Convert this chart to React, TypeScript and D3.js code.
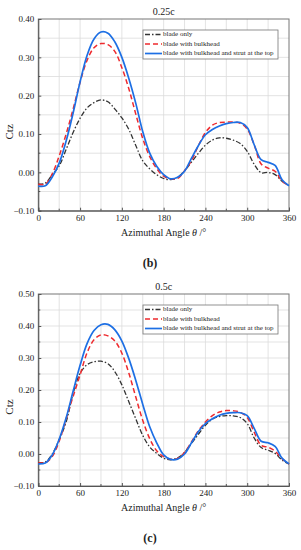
import { useEffect, useRef } from "react";
import * as d3 from "d3";

// azimuthal angle (deg)
const angles = [
    0, 10, 20, 30, 40, 50, 60, 70, 80, 90, 100, 110, 120, 130, 140, 150, 160, 170, 180,
    190, 200, 210, 220, 230, 240, 250, 260, 270, 280, 290, 300, 310, 320, 330, 340, 350, 360,
];

// 0.25c
const bladeOnly25 = [
    -0.031, -0.028, -0.006, 0.017, 0.06, 0.104, 0.141, 0.168, 0.182, 0.189, 0.184, 0.165, 0.142,
    0.112, 0.07, 0.03, 0.009, -0.006, -0.016, -0.019, -0.013, 0.004, 0.027, 0.05, 0.071, 0.084,
    0.09, 0.089, 0.084, 0.075, 0.055, 0.021, -0.001, 0.0, -0.006, -0.023, -0.035,
];
const bulkhead25 = [
    -0.031, -0.031, -0.004, 0.043, 0.1, 0.165, 0.235, 0.292, 0.325, 0.336, 0.333, 0.315, 0.273,
    0.218, 0.152, 0.088, 0.041, 0.01, -0.01, -0.017, -0.016, 0.004, 0.031, 0.07, 0.104, 0.123,
    0.13, 0.131, 0.131, 0.128, 0.113, 0.072, 0.022, 0.011, 0.003, -0.023, -0.035,
];
const strut25 = [
    -0.036, -0.035, -0.012, 0.024, 0.082, 0.155, 0.236, 0.305, 0.348, 0.366, 0.363, 0.34, 0.3,
    0.245, 0.18, 0.106, 0.05, 0.016, -0.006, -0.017, -0.013, 0.003, 0.037, 0.07, 0.098, 0.112,
    0.121, 0.127, 0.13, 0.13, 0.117, 0.072, 0.033, 0.026, 0.018, -0.019, -0.035,
];

// 0.5c
const bladeOnly50 = [
    -0.027, -0.025, 0.0, 0.045, 0.1, 0.19, 0.252, 0.279, 0.288, 0.29, 0.282, 0.257, 0.216, 0.163,
    0.11, 0.058, 0.022, 0.002, -0.013, -0.018, -0.012, 0.005, 0.033, 0.062, 0.09, 0.109, 0.117,
    0.12, 0.119, 0.114, 0.095, 0.05, 0.02, 0.012, 0.002, -0.019, -0.031,
];
const bulkhead50 = [
    -0.027, -0.027, -0.008, 0.04, 0.11, 0.18, 0.247, 0.316, 0.357, 0.372, 0.369, 0.353, 0.315,
    0.253, 0.178, 0.105, 0.048, 0.01, -0.008, -0.016, -0.014, 0.005, 0.038, 0.073, 0.1, 0.12,
    0.131, 0.136, 0.135, 0.13, 0.114, 0.068, 0.027, 0.021, 0.009, -0.015, -0.031,
];
const strut50 = [
    -0.031, -0.028, -0.003, 0.046, 0.113, 0.196, 0.277, 0.345, 0.386, 0.404, 0.405, 0.388, 0.353,
    0.298, 0.23, 0.155, 0.085, 0.035, -0.003, -0.017, -0.016, 0.0, 0.035, 0.07, 0.095, 0.11,
    0.121, 0.127, 0.129, 0.129, 0.12, 0.08, 0.04, 0.035, 0.024, -0.013, -0.031,
];

const legendLabels = ["blade only", "blade with bulkhead", "blade with bulkhead and strut at the top"];
const xTicks = [0, 60, 120, 180, 240, 300, 360];
const yTicks25 = [-0.1, 0.0, 0.1, 0.2, 0.3, 0.4];
const yTicks50 = [-0.1, 0.0, 0.1, 0.2, 0.3, 0.4, 0.5];

const FONT = "'Liberation Serif', 'Times New Roman', serif";

const styles = [
    { color: "#333333", width: 1.3, dash: "5,2,1.5,2" },
    { color: "#ee2a2e", width: 1.5, dash: "5,3" },
    { color: "#1d6fe4", width: 1.7, dash: null as string | null },
];

const App = () => {
    const svgRef = useRef<SVGSVGElement>(null);

    useEffect(() => {
        if (!svgRef.current) return;
        const svg = d3.select(svgRef.current);
        svg.selectAll("*").remove();

        const panels = [
            { title: "0.25c", tag: "(b)", top: 19, bottom: 210.7, yTicks: yTicks25, series: [bladeOnly25, bulkhead25, strut25] },
            { title: "0.5c", tag: "(c)", top: 294, bottom: 486, yTicks: yTicks50, series: [bladeOnly50, bulkhead50, strut50] },
        ];

        const left = 38.3;
        const right = 289;

        panels.forEach((p) => {
            const yMax = p.yTicks[p.yTicks.length - 1];
            const x = d3.scaleLinear().domain([0, 360]).range([left, right]);
            const y = d3.scaleLinear().domain([-0.1, yMax]).range([p.bottom, p.top]);
            const g = svg.append("g");

            // grid
            d3.range(30, 360, 30).forEach((a) => {
                g.append("line")
                    .attr("x1", x(a)).attr("x2", x(a))
                    .attr("y1", p.top).attr("y2", p.bottom)
                    .attr("stroke", "#dcdcdc").attr("stroke-width", 0.8);
            });
            d3.range(-0.05, yMax - 0.001, 0.05).forEach((v) => {
                g.append("line")
                    .attr("x1", left).attr("x2", right)
                    .attr("y1", y(v)).attr("y2", y(v))
                    .attr("stroke", "#dcdcdc").attr("stroke-width", 0.8);
            });

            // frame
            g.append("rect")
                .attr("x", left).attr("y", p.top)
                .attr("width", right - left).attr("height", p.bottom - p.top)
                .attr("fill", "none").attr("stroke", "#777").attr("stroke-width", 1);

            // axes (ticks point inward)
            const xAxis = d3.axisBottom(x).tickValues(xTicks).tickSize(-3).tickPadding(4)
                .tickFormat(d3.format("d") as any);
            const xg = g.append("g").attr("transform", `translate(0,${p.bottom})`).call(xAxis as any);
            const yAxis = d3.axisLeft(y).tickValues(p.yTicks).tickSize(-3).tickPadding(4)
                .tickFormat(d3.format(".2f") as any);
            const yg = g.append("g").attr("transform", `translate(${left},0)`).call(yAxis as any);
            [xg, yg].forEach((ax) => {
                ax.select(".domain").attr("stroke", "#555");
                ax.selectAll(".tick line").attr("stroke", "#555");
                ax.selectAll("text")
                    .attr("font-family", FONT)
                    .attr("font-size", 9)
                    .attr("fill", "#222");
            });
            // minor ticks
            d3.range(30, 360, 60).forEach((a) => {
                g.append("line").attr("x1", x(a)).attr("x2", x(a))
                    .attr("y1", p.bottom).attr("y2", p.bottom - 2).attr("stroke", "#555");
            });
            d3.range(-0.05, yMax, 0.1).forEach((v) => {
                g.append("line").attr("x1", left).attr("x2", left + 2)
                    .attr("y1", y(v)).attr("y2", y(v)).attr("stroke", "#555");
            });

            // curves
            const line = d3.line<number>()
                .x((_, i) => x(angles[i]))
                .y((d) => y(d))
                .curve(d3.curveCatmullRom.alpha(0.5));
            p.series.forEach((s, i) => {
                const st = styles[i];
                g.append("path")
                    .attr("d", line(s))
                    .attr("fill", "none")
                    .attr("stroke", st.color)
                    .attr("stroke-width", st.width)
                    .attr("stroke-dasharray", st.dash)
                    .attr("stroke-linejoin", "round");
            });

            // legend
            const lx = 143, ly = p.top + 11;
            g.append("rect")
                .attr("x", lx).attr("y", ly)
                .attr("width", 135).attr("height", 29)
                .attr("fill", "#fff").attr("stroke", "#777").attr("stroke-width", 0.8);
            legendLabels.forEach((lab, i) => {
                const yy = ly + 4.5 + i * 9.5;
                const st = styles[i];
                g.append("line")
                    .attr("x1", lx + 2).attr("x2", lx + 19)
                    .attr("y1", yy).attr("y2", yy)
                    .attr("stroke", st.color).attr("stroke-width", st.width)
                    .attr("stroke-dasharray", st.dash);
                g.append("text")
                    .attr("x", lx + 20).attr("y", yy)
                    .attr("dominant-baseline", "middle")
                    .attr("font-family", FONT).attr("font-size", 7)
                    .attr("fill", "#222")
                    .text(lab);
            });

            const cx = (left + right) / 2;
            // title
            g.append("text")
                .attr("x", cx).attr("y", p.top - 4)
                .attr("text-anchor", "middle")
                .attr("font-family", FONT).attr("font-size", 10)
                .attr("fill", "#222")
                .text(p.title);

            // axis titles
            const xt = g.append("text")
                .attr("x", cx).attr("y", p.bottom + 25)
                .attr("text-anchor", "middle")
                .attr("font-family", FONT).attr("font-size", 10)
                .attr("fill", "#222");
            xt.append("tspan").text("Azimuthal Angle ");
            xt.append("tspan").attr("font-style", "italic").text("θ");
            xt.append("tspan").text(" /°");

            g.append("text")
                .attr("transform", `translate(13,${(p.top + p.bottom) / 2 + 17}) rotate(-90)`)
                .attr("text-anchor", "middle")
                .attr("font-family", FONT).attr("font-size", 11)
                .attr("fill", "#222")
                .text("Ctz");

            g.append("text")
                .attr("x", 150).attr("y", p.bottom + 56)
                .attr("text-anchor", "middle")
                .attr("font-family", FONT).attr("font-size", 12).attr("font-weight", "bold")
                .attr("fill", "#222")
                .text(p.tag);
        });
    }, []);

    return (
        <svg
            ref={svgRef}
            width={301}
            height={550}
            style={{ position: "absolute", left: 0, top: 0, background: "#fff" }}
        />
    );
};

export default App;
